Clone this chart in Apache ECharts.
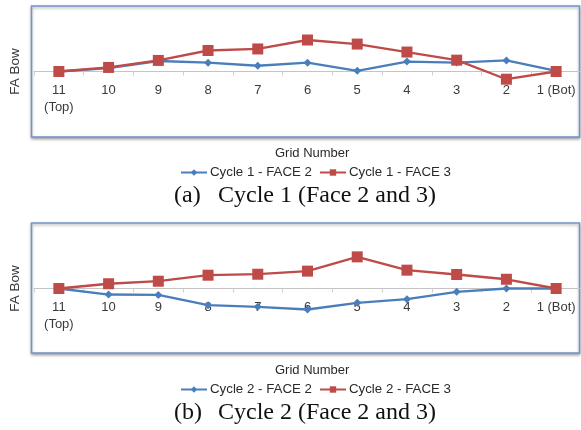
<!DOCTYPE html>
<html><head><meta charset="utf-8">
<script src="https://cdn.jsdelivr.net/npm/echarts@6/dist/echarts.min.js"></script>
<style>html,body{margin:0;padding:0;background:#fff}#c{width:581px;height:430px}</style>
</head><body><div id="c"></div>
<script>
const categories = ['11\n(Top)', '10', '9', '8', '7', '6', '5', '4', '3', '2', '1 (Bot)'];
const cycle1Face2 = [0, 0.024, 0.075, 0.063, 0.041, 0.063, 0.005, 0.071, 0.064, 0.079, 0.004];
const cycle1Face3 = [0, 0.029, 0.079, 0.150, 0.161, 0.225, 0.196, 0.139, 0.081, -0.055, 0];
const cycle2Face2 = [0, -0.043, -0.046, -0.119, -0.131, -0.150, -0.102, -0.076, -0.024, 0, 0];
const cycle2Face3 = [0, 0.034, 0.052, 0.095, 0.102, 0.124, 0.226, 0.131, 0.100, 0.066, 0];
const seriesNames1 = ['Cycle 1 - FACE 2', 'Cycle 1 - FACE 3'];
const seriesNames2 = ['Cycle 2 - FACE 2', 'Cycle 2 - FACE 3'];
const captionTags = ['(a)', '(b)'];
const captions = ['Cycle 1 (Face 2 and 3)', 'Cycle 2 (Face 2 and 3)'];
const yName = 'FA Bow';
const xName = 'Grid Number';

const BLUE = '#4a7ebb', RED = '#be4b48';
const SANS = 'Liberation Sans, Arial, sans-serif';
const SERIF = 'Liberation Serif, Times New Roman, serif';
const chart = echarts.init(document.getElementById('c'), null, {renderer: 'canvas'});

function xAx(i) {
  return {
    type: 'category', gridIndex: i, data: categories, boundaryGap: true,
    offset: -56,
    axisLine: {onZero: false, lineStyle: {color: '#c4c4c4', width: 1}},
    axisTick: {show: true, interval: 0, length: 4, lineStyle: {color: '#d0d0d0'}},
    axisLabel: {color: '#3a3a3a', fontSize: 13, fontFamily: SANS, margin: 10, lineHeight: 17, interval: 0}
  };
}
function yAx(i) {
  return {
    type: 'value', gridIndex: i, min: -0.4, max: 0.4,
    name: yName, nameLocation: 'middle', nameRotate: 90, nameGap: 12,
    nameTextStyle: {color: '#3a3a3a', fontSize: 13.5, fontFamily: SANS},
    axisLine: {show: false}, axisTick: {show: false}, axisLabel: {show: false}, splitLine: {show: false}
  };
}
function ser(name, data, i, isRed) {
  return {
    name: name, type: 'line', xAxisIndex: i, yAxisIndex: i, data: data,
    symbol: isRed ? 'rect' : 'diamond', symbolSize: isRed ? 11 : 8,
    itemStyle: {color: isRed ? RED : BLUE},
    lineStyle: {color: isRed ? RED : BLUE, width: 2.3},
    z: isRed ? 3 : 2, animation: false
  };
}
const legendBase = {
  itemWidth: 26, itemHeight: 8, itemGap: 7,
  textStyle: {color: '#2a2a2a', fontSize: 13.3, fontFamily: SANS, padding: [0, 0, 0, -2]}
};
const titleSans = {fontSize: 13, fontWeight: 'normal', color: '#2a2a2a', fontFamily: SANS};
const titleSerif = {fontSize: 24, fontWeight: 'normal', color: '#111', fontFamily: SERIF};

chart.setOption({
  animation: false,
  grid: [
    {left: 32, right: -1, top: 15.5, height: 112},
    {left: 32, right: -1, top: 232.5, height: 112}
  ],
  xAxis: [xAx(0), xAx(1)],
  yAxis: [yAx(0), yAx(1)],
  legend: [
    Object.assign({}, legendBase, {data: seriesNames1, left: 175, top: 161}),
    Object.assign({}, legendBase, {data: seriesNames2, left: 175, top: 378})
  ],
  title: [
    {text: xName, left: 275, top: 147, padding: 0, textStyle: titleSans},
    {text: xName, left: 275, top: 364, padding: 0, textStyle: titleSans},
    {text: captionTags[0], left: 174, top: 184, padding: 0, textStyle: titleSerif},
    {text: captions[0], left: 218, top: 184, padding: 0, textStyle: titleSerif},
    {text: captionTags[1], left: 174, top: 401, padding: 0, textStyle: titleSerif},
    {text: captions[1], left: 218, top: 401, padding: 0, textStyle: titleSerif}
  ],
  graphic: [
    {type: 'rect', shape: {x: 31.5, y: 6, width: 548, height: 131}, z: -1,
     style: {fill: '#fff', stroke: '#7393c6', lineWidth: 1.5, shadowBlur: 3, shadowOffsetY: 1.5, shadowColor: 'rgba(0,0,0,0.35)'}},
    {type: 'rect', shape: {x: 31.5, y: 223, width: 548, height: 130}, z: -1,
     style: {fill: '#fff', stroke: '#7393c6', lineWidth: 1.5, shadowBlur: 3, shadowOffsetY: 1.5, shadowColor: 'rgba(0,0,0,0.35)'}}
  ],
  series: [
    ser(seriesNames1[0], cycle1Face2, 0, false),
    ser(seriesNames1[1], cycle1Face3, 0, true),
    ser(seriesNames2[0], cycle2Face2, 1, false),
    ser(seriesNames2[1], cycle2Face3, 1, true)
  ]
});
</script></body></html>
